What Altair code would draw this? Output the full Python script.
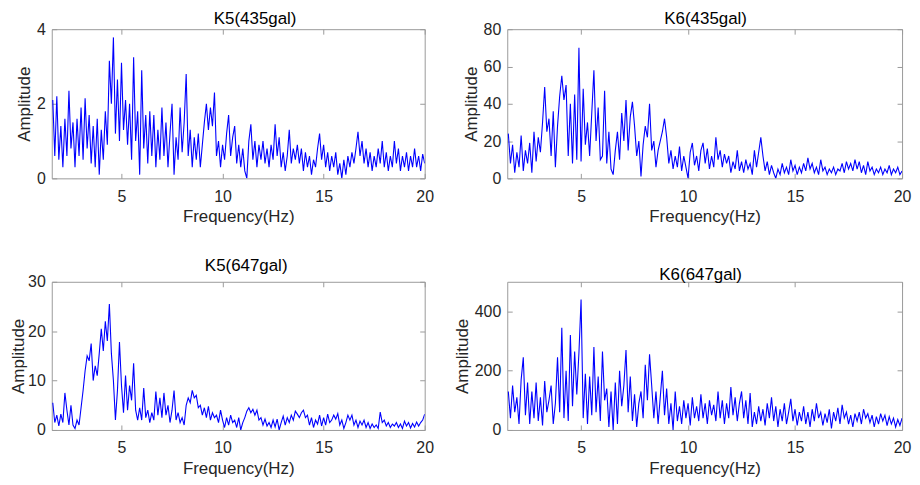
import altair as alt
import pandas as pd

# frequency grid (Hz), 0.1 Hz spacing from 1.6 to 20.0
freq = [round(1.6 + 0.1 * i, 1) for i in range(185)]

k5_435 = [
    2.1, 0.6, 2.2, 0.5, 1.4, 0.3, 1.6, 0.6, 2.35, 0.8,
    1.5, 0.3, 1.6, 0.6, 1.9, 0.5, 2.15, 0.8, 1.7, 0.4,
    1.4, 0.3, 1.6, 0.1, 1.3, 0.5, 1.8, 0.9, 3.15, 2.0,
    3.78, 1.2, 2.65, 1.0, 3.1, 1.3, 2.1, 0.9, 2.0, 0.5,
    3.25, 1.0, 1.8, 0.1, 2.9, 0.8, 1.7, 0.4, 1.8, 0.6,
    1.7, 0.3, 1.3, 0.5, 1.9, 0.6, 1.5, 0.3, 1.2, 2.0,
    0.1, 1.1, 0.5, 1.9, 0.7, 1.5, 2.8, 0.6, 1.3, 0.3,
    1.1, 0.5, 1.2, 0.3, 0.9, 1.5, 2.0, 1.3, 1.9, 1.4,
    2.3, 0.6, 1.0, 0.3, 0.9, 0.5, 1.2, 1.7, 0.6, 1.1,
    1.4, 0.4, 0.9, 0.3, 0.8, 0.2, 0.0, 1.0, 1.45, 0.5,
    1.0, 0.3, 0.9, 0.5, 1.0, 0.4, 0.8, 0.3, 0.9, 0.5,
    1.45, 0.6, 1.1, 0.3, 0.7, 0.2, 0.6, 1.3, 0.4, 0.8,
    0.5, 0.9, 0.4, 0.8, 0.2, 0.7, 0.3, 0.6, 0.1, 0.5,
    0.3, 0.8, 1.2, 0.5, 0.9, 0.3, 0.7, 0.2, 0.6, 0.3,
    0.7, 0.1, 0.4, 0.0, 0.5, 0.1, 0.6, 0.3, 0.7, 0.4,
    0.8, 1.25, 0.6, 1.0, 0.4, 0.8, 0.3, 0.7, 0.2, 0.6,
    0.3, 0.8, 0.4, 1.0, 0.3, 0.7, 0.2, 0.6, 0.3, 1.0,
    0.4, 0.8, 0.2, 0.6, 0.3, 0.7, 0.2, 0.6, 0.3, 0.8,
    0.3, 0.6, 0.2, 0.65, 0.4,
]

k6_435 = [
    24, 8, 18, 3, 14, 6, 23, 4, 15, 8,
    19, 3, 25, 9, 22, 14, 30, 49, 25, 32,
    12, 36, 6, 28, 44, 55, 42, 50, 12, 40,
    8, 45, 10, 70, 9, 48, 18, 30, 12, 35,
    58, 20, 38, 10, 12, 47, 8, 25, 5, 2,
    15, 25, 10, 35, 20, 42, 15, 33, 41, 28,
    12, 20, 1, 18, 28, 22, 40, 15, 20, 6,
    15, 20, 25, 32, 22, 8, 15, 5, 12, 6,
    17, 4, 12, 6, 0, 14, 19, 7, 12, 4,
    15, 19, 8, 16, 5, 12, 6, 22, 10, 15,
    6, 13, 8, 12, 3, 9, 5, 15, 4, 9,
    3, 10, 5, 8, 2, 15, 6, 14, 22, 12,
    4, 9, 2, 7, 3, 0, 5, 2, 8, 3,
    6, 2, 10, 4, 7, 2, 6, 3, 8, 4,
    11, 5, 8, 3, 6, 2, 10, 4, 6, 2,
    5, 3, 6, 2, 5, 4, 8, 3, 9, 5,
    8, 4, 10, 5, 9, 3, 7, 2, 9, 4,
    6, 2, 5, 3, 6, 2, 5, 3, 7, 2,
    5, 3, 6, 2, 4,
]

k5_647 = [
    5.5, 1.5, 3.0, 0.8, 3.2, 1.5, 7.5, 4.0, 1.0, 5.0,
    1.0, 0.3, 2.0, 1.0, 4.5, 8.0, 12.0, 15.0, 14.0, 17.5,
    10.0, 13.0, 11.0, 15.5, 20.5, 16.0, 22.0, 18.0, 25.5, 15.5,
    10.0, 2.0, 8.0, 17.8, 9.0, 3.5, 11.0, 4.0, 9.0, 6.0,
    13.5, 4.0, 2.0, 4.5, 2.0, 8.5, 2.5, 4.0, 1.5, 3.5,
    2.0, 7.8, 3.0, 6.5, 2.5, 7.5, 3.0, 5.0, 1.5, 4.0,
    8.0, 2.0, 3.5, 1.5, 2.5, 1.0, 5.0, 6.5, 5.5, 8.0,
    6.5, 7.0, 4.5, 5.0, 3.0, 4.5, 2.5, 4.8, 2.0, 3.5,
    2.5, 3.0, 1.5, 4.0, 2.0, 0.5, 2.5, 1.0, 3.0, 1.5,
    2.0, 0.5, 2.5, 0.0, 1.5, 2.5, 3.8, 4.5, 3.5, 4.2,
    3.0, 4.0, 2.0, 2.5, 1.0, 2.2, 0.8, 1.5, 0.5, 2.0,
    0.6, 2.2, 0.0, 1.5, 2.8, 1.0, 2.5, 1.5, 3.0, 2.0,
    3.8, 3.2, 2.5, 3.5, 4.0, 2.5, 3.0, 1.0, 2.5, 0.5,
    2.0, 1.2, 3.0, 0.8, 2.5, 1.0, 3.2, 1.5, 2.0, 3.0,
    2.2, 3.3, 1.0, 2.0, 0.3, 1.5, 3.0, 2.0, 3.0, 1.0,
    2.0, 0.5, 1.8, 1.0, 2.0, 0.5, 1.5, 0.3, 1.2, 0.5,
    1.0, 0.3, 3.6, 1.5, 2.0, 0.8, 1.5, 0.5, 1.2, 0.8,
    1.5, 0.5, 1.2, 0.3, 1.8, 0.8, 1.5, 0.4, 1.3, 0.6,
    1.6, 0.8, 1.5, 2.0, 3.2,
]

k6_647 = [
    130, 40, 150, 60, 110, 20, 170, 245, 50, 160,
    20, 130, 40, 160, 30, 110, 15, 165, 60, 100,
    150, 20, 90, 245, 60, 345, 40, 200, 30, 320,
    80, 265, 120, 260, 440, 40, 190, 20, 180, 50,
    280, 60, 180, 30, 265, 100, 140, 10, 130, 0,
    160, 20, 200, 80, 150, 270, 60, 180, 30, 120,
    10, 90, 130, 40, 220, 100, 255, 150, 40, 130,
    20, 110, 200, 50, 140, 20, 90, 0, 130, 30,
    80, 20, 100, 40, 90, 15, 110, 40, 80, 30,
    120, 40, 90, 20, 100, 50, 85, 30, 130, 40,
    100, 20, 90, 40, 145, 50, 110, 30, 90, 130,
    40, 100, 20, 125, 10, 60, 20, 80, 30, 70,
    15, 90, 40, 110, 30, 80, 10, 70, 30, 90,
    20, 60, 105, 30, 70, 15, 60, 30, 80, 20,
    60, 10, 70, 30, 90, 40, 60, 15, 55, 25,
    70, 5, 60, 30, 75, 20, 85, 40, 60, 20,
    50, 10, 55, 30, 60, 20, 70, 40, 55, 25,
    50, 10, 45, 20, 55, 30, 50, 15, 45, 20,
    40, 10, 35, 15, 40,
]

titles = ["K5(435gal)", "K6(435gal)", "K5(647gal)", "K6(647gal)"]
x_ticks = [5, 10, 15, 20]

FONT = "Liberation Sans"
FRAME = "#9a9a9a"
TEXT = "#262626"


def panel(values, title, ymax, yticks, width, height, dx, toff, ytp):
    df = pd.DataFrame({"f": freq, "a": values})
    xs = alt.Scale(domain=[1.55, 20], nice=False, zero=False)
    ys = alt.Scale(domain=[0, ymax], nice=False)
    xa = alt.Axis(values=x_ticks, title="Frequency(Hz)", offset=-5, tickSize=5,
                  domain=False, grid=False, labelPadding=10, titlePadding=4.5,
                  labelFlush=False)
    ya = alt.Axis(values=yticks, title="Amplitude", offset=-5, tickSize=5,
                  domain=False, grid=False, labelPadding=6.5, titlePadding=ytp)
    line = alt.Chart(df).mark_line(color="#0000ff", strokeWidth=1.1, clip=True).encode(
        x=alt.X("f:Q", scale=xs, axis=xa),
        y=alt.Y("a:Q", scale=ys, axis=ya),
    )
    xa2 = alt.Axis(orient="top", values=x_ticks, labels=False, title=None, offset=-5,
                   tickSize=5, domain=False, grid=False)
    ya2 = alt.Axis(orient="right", values=yticks, labels=False, title=None, offset=-5,
                   tickSize=5, domain=False, grid=False)
    ghost = alt.Chart(df).mark_line(strokeOpacity=0, clip=True).encode(
        x=alt.X("f:Q", scale=xs, axis=xa2),
        y=alt.Y("a:Q", scale=ys, axis=ya2),
    )
    return (
        alt.layer(line, ghost)
        .resolve_axis(x="independent", y="independent")
        .properties(
            width=width,
            height=height,
            title=alt.TitleParams(title, dx=dx, offset=toff, anchor="middle"),
        )
    )


p1 = panel(k5_435, titles[0], 4, [0, 2, 4], 375, 150, 17, -7, 3)
p2 = panel(k6_435, titles[1], 80, [0, 20, 40, 60, 80], 397, 150, 1, -7, 3)
p3 = panel(k5_647, titles[2], 30, [0, 10, 20, 30], 375, 149, 8, -1, 0.5)
p4 = panel(k6_647, titles[3], 500, [0, 200, 400], 397, 149, -4, -3, 3)

chart = (
    alt.concat(p1, p2, p3, p4, columns=2,
               spacing=alt.RowColnumber(row=31, column=18))
    .properties(padding=0, background="white")
    .configure_view(stroke=FRAME, strokeWidth=1)
    .configure_axis(
        labelFont=FONT, titleFont=FONT, labelFontSize=16, titleFontSize=17,
        labelColor=TEXT, titleColor=TEXT, tickColor=FRAME, tickWidth=1,
        titleFontWeight="normal",
    )
    .configure_title(font=FONT, fontSize=17, fontWeight="normal", color="#000000")
)

chart.save("out.html", embed_options={"renderer": "svg", "actions": False})
